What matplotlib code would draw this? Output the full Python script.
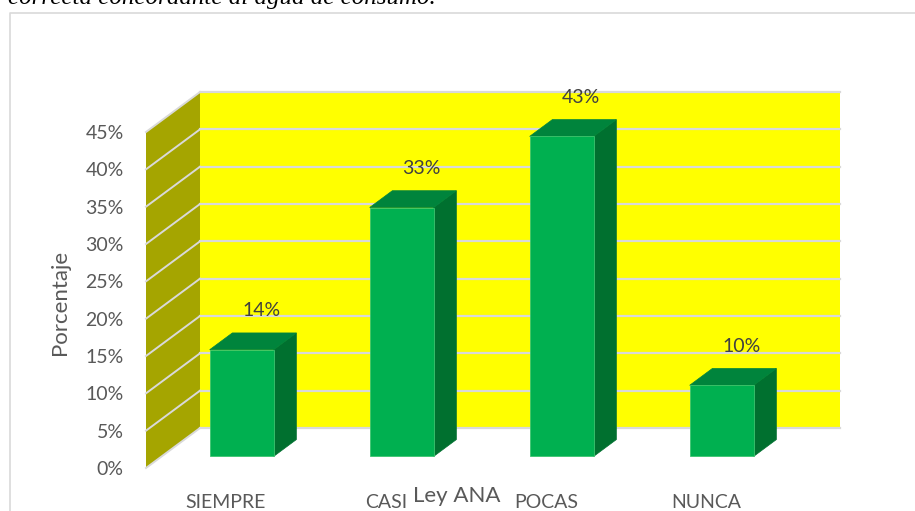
import numpy as np
import matplotlib
matplotlib.use("Agg")
from matplotlib import pyplot as plt
from matplotlib.patches import Polygon
from matplotlib.lines import Line2D

# survey answers (21 respondents)
categories = ['SIEMPRE', 'CASI', 'POCAS', 'NUNCA']
counts = [3, 7, 9, 2]
percent = [100.0 * c / sum(counts) for c in counts]
yticks = list(range(0, 50, 5))
ytick_labels = ['%d%%' % t for t in yticks]
title_text = 'correcta concordante al agua de consumo.'

plt.rcParams['font.family'] = ['Lato', 'DejaVu Sans']
txt_col = '#595959'

fig = plt.figure(figsize=(9.15, 5.11), dpi=100)
W, H = 915.0, 511.0

# front plane of the 3d box
ax = fig.add_axes([146 / W, 43 / H, 640 / W, 336 / H])
ax.set_xlim(-0.5, 3.5)
ax.set_ylim(0, 45)
for s in ax.spines.values():
    s.set_visible(False)

# depth of the box, in data units
D = 54 / 160.0
Dy = 40 / (336 / 45.0)
ymax = yticks[-1]

# back wall + side wall
ax.add_patch(Polygon([(-0.5 + D, Dy), (3.5 + D, Dy), (3.5 + D, ymax + Dy), (-0.5 + D, ymax + Dy)],
                     closed=True, fc='#FFFF00', ec='none', clip_on=False, zorder=1))
ax.add_patch(Polygon([(-0.5, 0), (-0.5 + D, Dy), (-0.5 + D, ymax + Dy), (-0.5, ymax)],
                     closed=True, fc='#A5A500', ec='none', clip_on=False, zorder=1))

for t in yticks:
    ax.plot([-0.5 + D, 3.5 + D], [t + Dy, t + Dy], color='#D9D9D9', lw=1.6, clip_on=False, zorder=2)
    ax.plot([-0.5, -0.5 + D], [t, t + Dy], color='#D9D9D9', lw=1.4, clip_on=False, zorder=2)

# 3d bars
bw = 0.4
d0, d1 = 0.29, 0.71
for i, v in enumerate(percent):
    x0 = i - bw / 2 + d0 * D
    x1 = i + bw / 2 + d0 * D
    b0 = d0 * Dy
    ddx = (d1 - d0) * D
    ddy = (d1 - d0) * Dy
    front = [(x0, b0), (x1, b0), (x1, v + b0), (x0, v + b0)]
    top = [(x0, v + b0), (x1, v + b0), (x1 + ddx, v + b0 + ddy), (x0 + ddx, v + b0 + ddy)]
    side = [(x1, b0), (x1 + ddx, b0 + ddy), (x1 + ddx, v + b0 + ddy), (x1, v + b0)]
    ax.add_patch(Polygon(side, closed=True, fc='#00702F', ec='#00702F', lw=0.5, clip_on=False, zorder=3))
    ax.add_patch(Polygon(top, closed=True, fc='#00843C', ec='#00843C', lw=0.5, clip_on=False, zorder=3))
    ax.add_patch(Polygon(front, closed=True, fc='#00B050', ec='#3DC46F', lw=0.6, clip_on=False, zorder=4))
    ax.annotate('%d%%' % round(v), xy=(i + d1 * D, v + d1 * Dy), xytext=(-3, 22),
                textcoords='offset pixels', ha='center', va='center',
                fontsize=14, color='#404040', annotation_clip=False, zorder=5)

ax.set_yticks(yticks)
ax.set_yticklabels(ytick_labels)
ax.set_xticks(range(len(categories)))
ax.set_xticklabels(categories)
ax.tick_params(axis='both', length=0, labelsize=14, labelcolor=txt_col)
ax.tick_params(axis='y', pad=16)
ax.tick_params(axis='x', pad=19)

ax.set_ylabel('Porcentaje', fontsize=16, color=txt_col)
ax.yaxis.label.set_va('center')
ax.yaxis.set_label_coords((60 - 146) / 640.0, (511 - 302 - 43) / 336.0)
ax.set_xlabel('Ley ANA', fontsize=16, color=txt_col)
ax.xaxis.label.set_va('baseline')
ax.xaxis.set_label_coords((457 - 146) / 640.0, (9 - 43) / 336.0)

# chart frame, cut by the page edge
fig.add_artist(Line2D([10 / W, 10 / W, 1.0], [0.0, 1 - 13 / H, 1 - 13 / H],
                      color='#D9D9D9', lw=1.2, transform=fig.transFigure))

# caption line running above the chart
fig.text(8 / W, 1 - 4 / H, title_text, family='Liberation Serif', style='italic',
         fontsize=18, va='baseline', ha='left', color='black')

fig.savefig('out.png', dpi=100)
